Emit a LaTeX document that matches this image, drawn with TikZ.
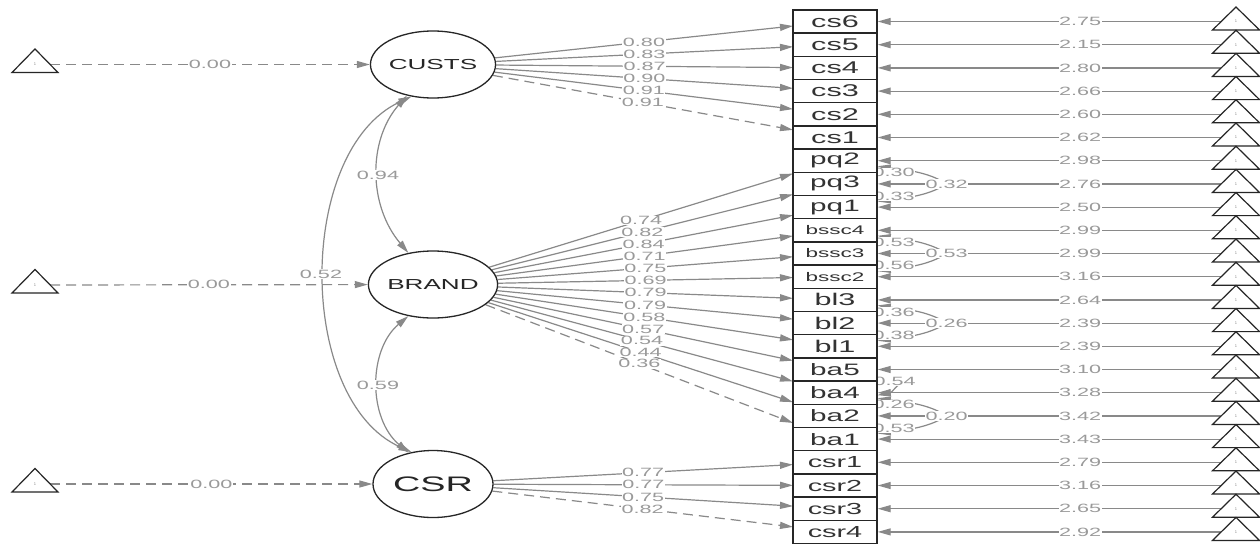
\documentclass[tikz,border=0pt]{standalone}
\usepackage{fontspec}
\setmainfont{Liberation Sans}
\newfontfamily\wf[FakeStretch=1.8]{Liberation Sans}
\usetikzlibrary{arrows.meta,calc,shapes.geometric}
\pgfdeclarelayer{edges}
\pgfsetlayers{edges,main}
\definecolor{edgegray}{HTML}{898989}
\definecolor{labgray}{HTML}{9A9A9A}
\definecolor{ink}{HTML}{262626}
\begin{document}
\begin{tikzpicture}[x=1pt,y=-1pt,
  lat/.style={ellipse, draw=ink, line width=1.3pt, fill=white, minimum width=120pt, minimum height=67pt, inner sep=0pt, text=ink},
  mbox/.style={rectangle, draw=ink, line width=1.4pt, fill=white, minimum width=84pt, minimum height=23.2pt, inner sep=0pt, text=black!80},
  trinode/.style={minimum width=30pt, minimum height=2pt, inner sep=0pt, text=black!45, font=\fontsize{4}{4}\selectfont},
  tridraw/.style={draw=ink, line width=1.2pt, line join=miter},
  edge/.style={draw=edgegray, line width=1.2pt, -{Triangle[length=13pt,width=7pt]}},
  cov/.style={draw=edgegray, line width=1.2pt, {Triangle[length=13pt,width=7pt]}-{Triangle[length=13pt,width=7pt]}},
  fixed/.style={dash pattern=on 10pt off 6pt},
  lab/.style={fill=white, inner sep=0.6pt, text=labgray, font=\wf\fontsize{12}{12}\selectfont}]
\useasboundingbox (0,0) rectangle (1260,544);

% latent variables
\node[lat, font=\wf\fontsize{14.5}{15}\selectfont] (CUSTS) at (433,64.5) {CUSTS};
\node[lat, font=\wf\fontsize{14.5}{15}\selectfont] (BRAND) at (433,284.5) {BRAND};
\node[lat, font=\wf\fontsize{21}{21}\selectfont] (CSR) at (433,484) {CSR};

% left intercept triangles
\foreach \k/\yy in {1/64.5,2/285,3/484} {
  \node[trinode] (LT\k) at (35,\yy) {1};
  \draw[tridraw] ($(LT\k)+(0,-15.5)$) -- ($(LT\k)+(-23,8)$) -- ($(LT\k)+(23,8)$) -- cycle;
}

% manifest boxes and right triangles
\foreach \n/\fs [count=\i from 0] in {cs6/17,cs5/17,cs4/17,cs3/17,cs2/17,cs1/17,pq2/16.5,pq3/16.5,pq1/16.5,bssc4/12.5,bssc3/12.5,bssc2/12.5,bl3/17,bl2/17,bl1/17,ba5/16.5,ba4/16.5,ba2/16.5,ba1/16.5,csr1/16,csr2/16,csr3/16,csr4/16} {
  \node[mbox, font=\wf\fontsize{\fs}{\fs}\selectfont] (\n) at (835,21.5+23.2*\i) {\n};
  \node[trinode] (t\n) at (1236,21.5+23.2*\i) {1};
  \draw[tridraw] ($(t\n)+(0,-14.5)$) -- ($(t\n)+(-23.5,8.5)$) -- ($(t\n)+(23.5,8.5)$) -- cycle;
}

\begin{pgfonlayer}{edges}
\fill[white] (0,0) rectangle (1260,544);

% loadings (end where the line to the box centre meets the column's left side)
\foreach \f/\t in {CUSTS/cs6,CUSTS/cs5,CUSTS/cs4,CUSTS/cs3,CUSTS/cs2,
  BRAND/pq2,BRAND/pq3,BRAND/pq1,BRAND/bssc4,BRAND/bssc3,BRAND/bssc2,BRAND/bl3,BRAND/bl2,BRAND/bl1,BRAND/ba5,BRAND/ba4,BRAND/ba2,
  CSR/csr1,CSR/csr2,CSR/csr3}
  \draw[edge] (\f) -- ($(\f)!0.8955!(\t)$);
\foreach \f/\t in {CUSTS/cs1,BRAND/ba1,CSR/csr4}
  \draw[edge,fixed] (\f) -- ($(\f)!0.8955!(\t)$);
\foreach \f/\t/\v in {CUSTS/cs6/0.80,CUSTS/cs5/0.83,CUSTS/cs4/0.87,CUSTS/cs3/0.90,CUSTS/cs2/0.91,CUSTS/cs1/0.91,
  BRAND/pq2/0.74,BRAND/pq3/0.82,BRAND/pq1/0.84,BRAND/bssc4/0.71,BRAND/bssc3/0.75,BRAND/bssc2/0.69,BRAND/bl3/0.79,BRAND/bl2/0.79,BRAND/bl1/0.58,BRAND/ba5/0.57,BRAND/ba4/0.54,BRAND/ba2/0.44,BRAND/ba1/0.36,
  CSR/csr1/0.77,CSR/csr2/0.77,CSR/csr3/0.75,CSR/csr4/0.82}
  \path (\f) -- ($(\f)!0.8955!(\t)$) node[lab,pos=0.5] {\v};

% intercepts of manifest variables
\foreach \n/\v in {cs6/2.75,cs5/2.15,cs4/2.80,cs3/2.66,cs2/2.60,cs1/2.62,pq2/2.98,pq3/2.76,pq1/2.50,bssc4/2.99,bssc3/2.99,bssc2/3.16,bl3/2.64,bl2/2.39,bl1/2.39,ba5/3.10,ba4/3.28,ba2/3.42,ba1/3.43,csr1/2.79,csr2/3.16,csr3/2.65,csr4/2.92} {
  \draw[edge] (t\n) -- (\n);
  \path (t\n) -- (\n) node[lab,pos=0.41] {\v};
}

% intercepts of latent variables
\foreach \k/\l in {1/CUSTS,2/BRAND,3/CSR} {
  \draw[edge,fixed] (LT\k) -- (\l);
  \path (LT\k) -- (\l) node[lab,pos=0.5] {0.00};
}

% latent covariances
\draw[cov] (CUSTS.230) .. controls (368,140) and (368,205) .. (BRAND.128);
\draw[cov] (CUSTS.236) .. controls (296,150) and (296,400) .. (CSR.124);
\draw[cov] (BRAND.232) .. controls (368,350) and (368,418) .. (CSR.128);
\node[lab] (l094) at (378,175) {0.94};
\node[lab] (l052) at (321,274) {0.52};
\node[lab] (l059) at (378,385) {0.59};

% residual covariances
\foreach \a/\b/\c/\la/\lb/\lc in {pq2/pq3/pq1/0.30/0.32/0.33,bssc4/bssc3/bssc2/0.53/0.53/0.56,bl3/bl2/bl1/0.36/0.26/0.38,ba4/ba2/ba1/0.26/0.20/0.53} {
  \coordinate (ap\b) at ($(\b.east)+(69,0)$);
  \draw[edge] (ap\b) .. controls ($(ap\b)+(-20,-13)$) and ($(\a.east)+(24,9)$) .. ($(\a.east)+(0,5.5)$);
  \draw[edge] (ap\b) .. controls ($(ap\b)+(-20,13)$) and ($(\c.east)+(24,-9)$) .. ($(\c.east)+(0,-5.5)$);
  \node[lab] at ($(\a.east)+(16,12)$) {\la};
  \node[lab] at ($(\c.east)+(16,-11)$) {\lc};
  \node[lab] at (ap\b) {\lb};
}
\draw[edge] ($(ba5.east)+(28,11)$) .. controls ($(ba5.east)+(20,14)$) and ($(ba4.east)+(14,0)$) .. ($(ba4.east)+(0,2.5)$);
\node[lab] at ($(ba5.east)+(17,12)$) {0.54};
\end{pgfonlayer}
\end{tikzpicture}
\end{document}
